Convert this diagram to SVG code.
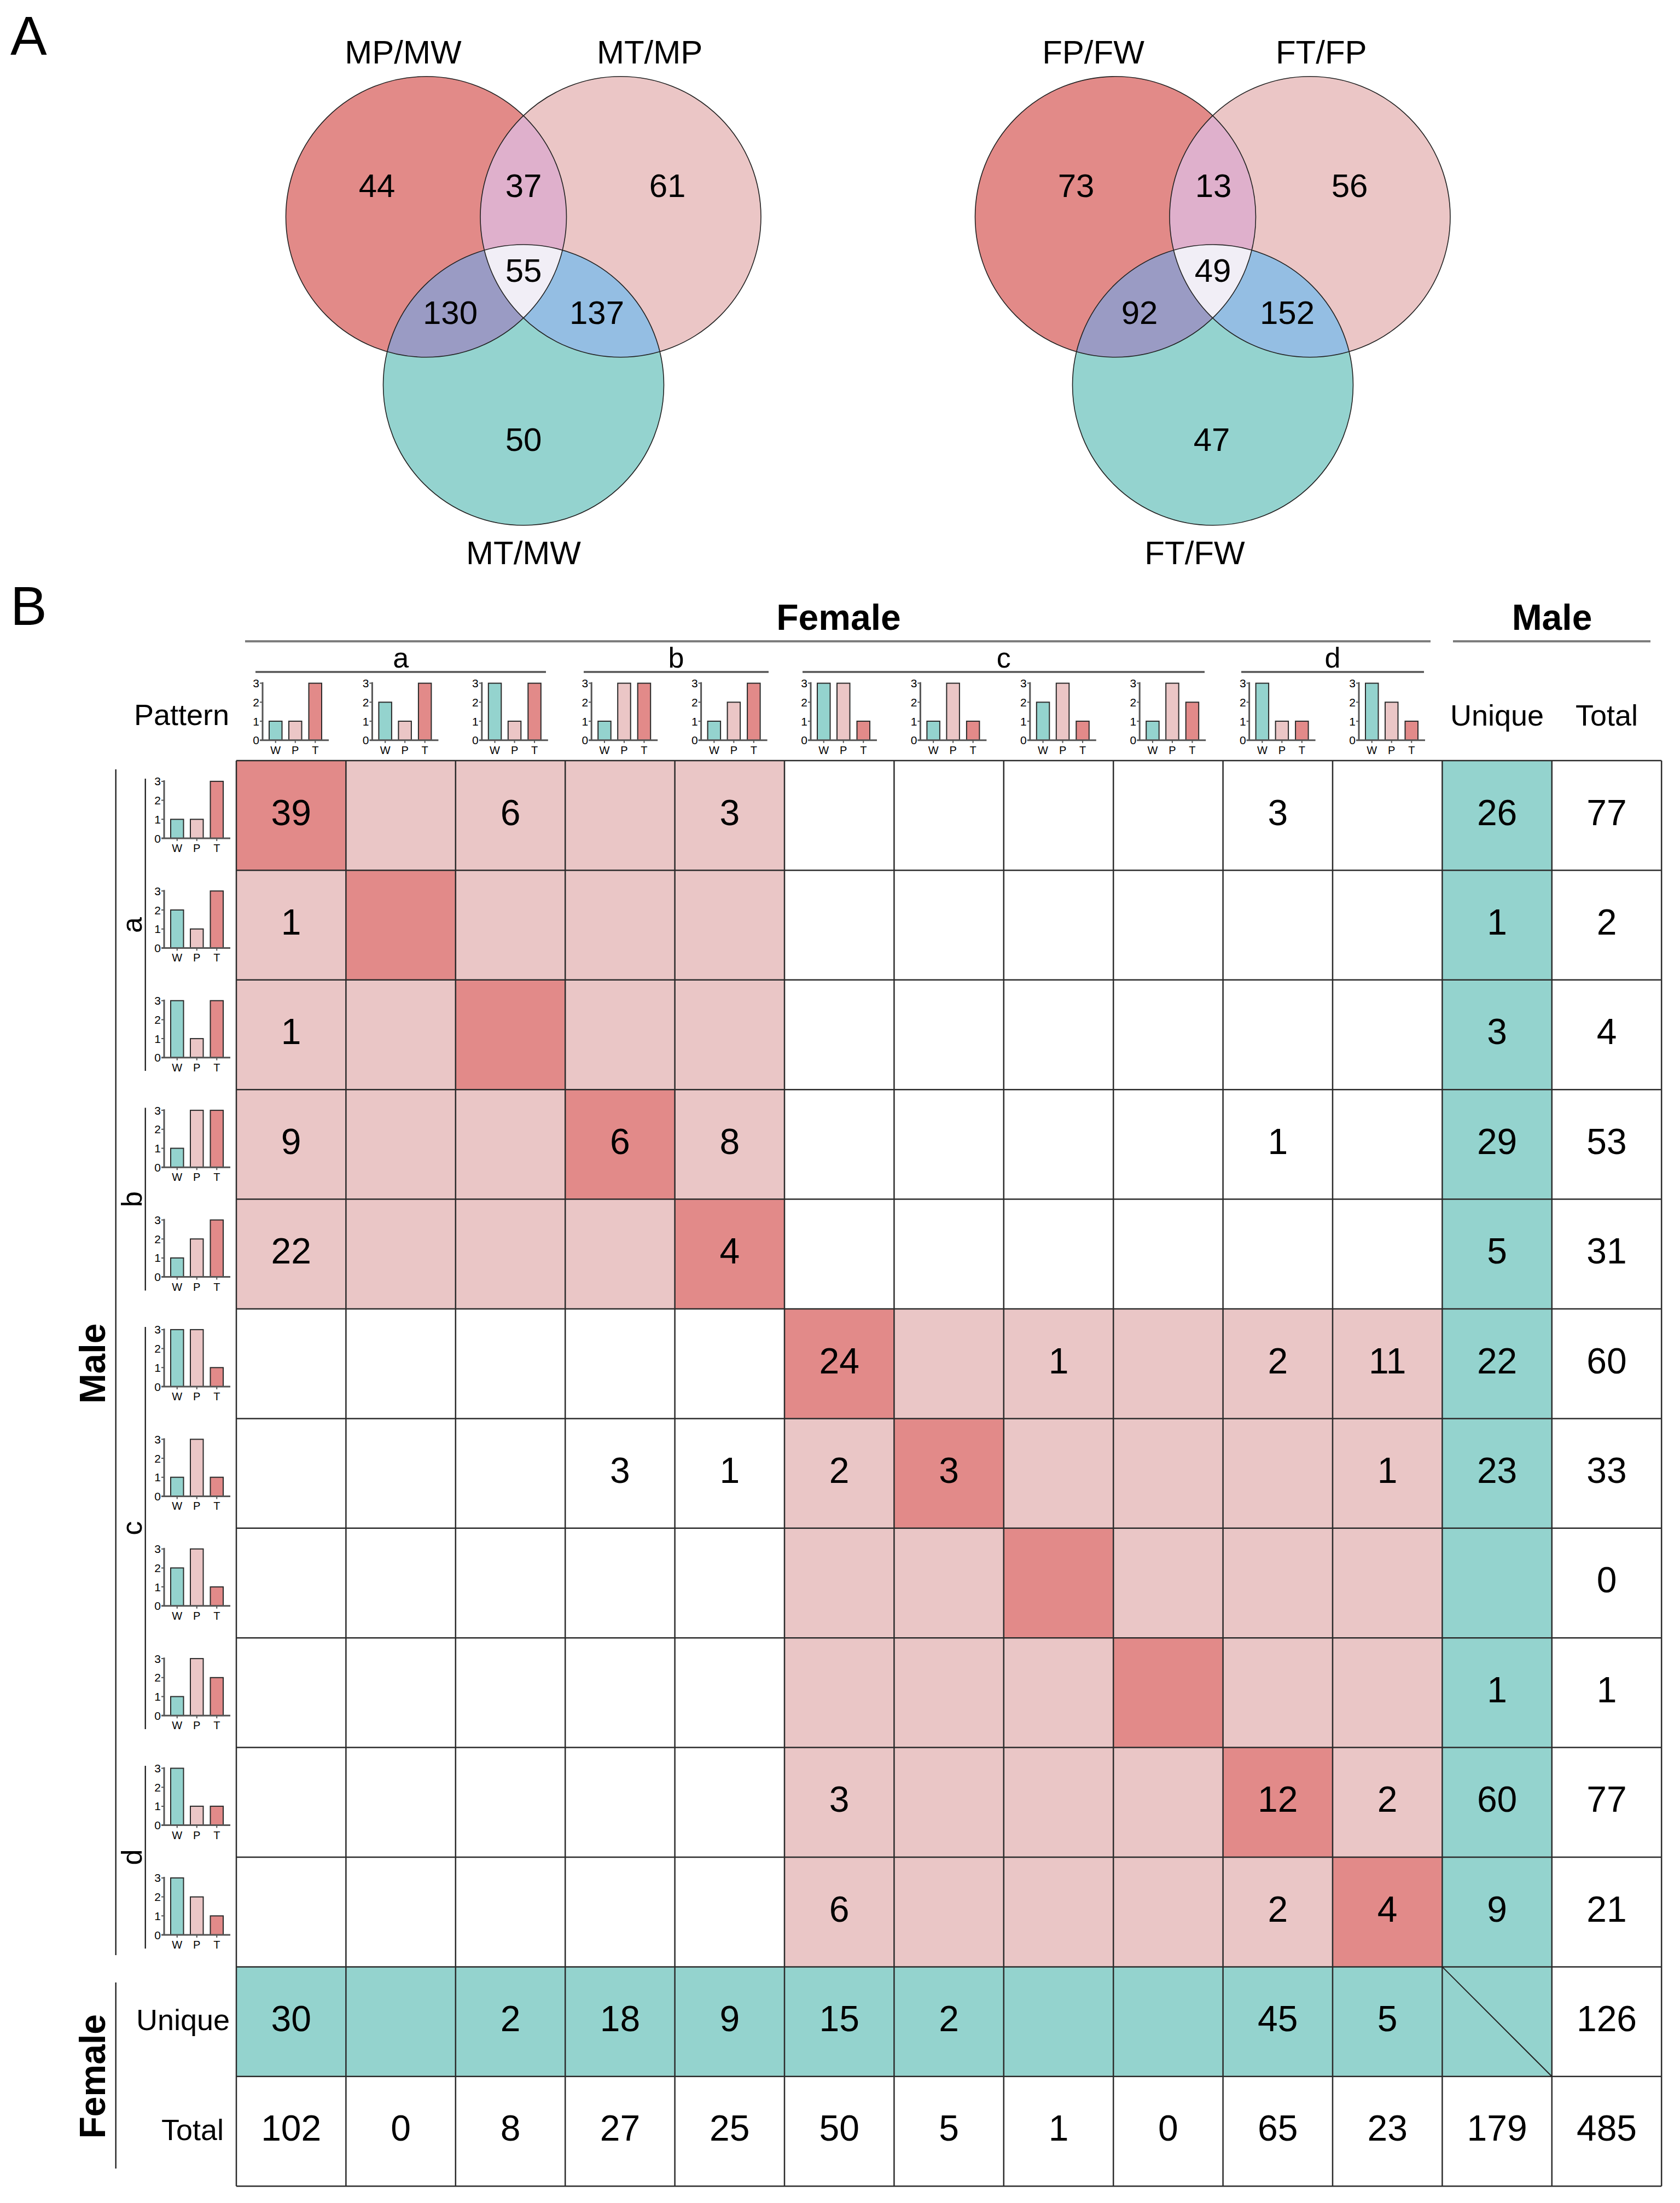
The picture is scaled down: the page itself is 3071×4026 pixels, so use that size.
<svg xmlns="http://www.w3.org/2000/svg" xmlns:xlink="http://www.w3.org/1999/xlink" width="3071" height="4026" viewBox="0 0 3071 4026">
<style>
text{font-family:"Liberation Sans",Arial,Helvetica,sans-serif;fill:#000}
.vl{font-size:60px;text-anchor:middle}
.big{font-size:100px}
.hb{font-size:66px;font-weight:bold;text-anchor:middle}
.grp{font-size:52px;text-anchor:middle}
.lab{font-size:54px}
.n{font-size:66px;text-anchor:middle}
.tk{font-size:21px;text-anchor:end}
.xl{font-size:20px;text-anchor:middle}
.ax{stroke:#555;stroke-width:3;fill:none}
.tm{stroke:#555;stroke-width:2;fill:none}
.bw{fill:#94D3CE;stroke:#2a2a2a;stroke-width:2}
.bp{fill:#EBC6C6;stroke:#2a2a2a;stroke-width:2}
.bt{fill:#E28A89;stroke:#2a2a2a;stroke-width:2}
.hl{stroke:#7d7d7d;stroke-width:4}
.gl{stroke:#555;stroke-width:3.5}
.br{stroke:#111;stroke-width:2.2}
.pk{fill:#EAC6C6}
.dk{fill:#E28A89}
.tl{fill:#94D3CE}
.grid{stroke:#2b2b2b;stroke-width:2.5;fill:none}
.vc{stroke:#222;stroke-width:1.6;fill:none}
</style>
<defs>
<clipPath id="cA"><circle cx="779" cy="396.3" r="256.5"/></clipPath>
<clipPath id="cB"><circle cx="1134.5" cy="396.3" r="256.5"/></clipPath>
<g id="axes">
<line class="ax" x1="-5" y1="0" x2="121" y2="0"/>
<line class="ax" x1="0" y1="1" x2="0" y2="-106"/>
<path class="tm" d="M-5,-104.1H0M-5,-69.4H0M-5,-34.7H0M23.75,0v5M59.75,0v5M96.25,0v5"/>
<text class="tk" x="-6" y="-96.6">3</text>
<text class="tk" x="-6" y="-61.9">2</text>
<text class="tk" x="-6" y="-27.2">1</text>
<text class="tk" x="-6" y="7.5">0</text>
<text class="xl" x="23.75" y="25">W</text>
<text class="xl" x="59.75" y="25">P</text>
<text class="xl" x="96.25" y="25">T</text>
</g>
<g id="p1"><rect class="bw" x="12" y="-34.7" width="23.5" height="34.7"/><rect class="bp" x="48" y="-34.7" width="23.5" height="34.7"/><rect class="bt" x="84.5" y="-104.1" width="23.5" height="104.1"/><use href="#axes"/></g>
<g id="p2"><rect class="bw" x="12" y="-69.4" width="23.5" height="69.4"/><rect class="bp" x="48" y="-34.7" width="23.5" height="34.7"/><rect class="bt" x="84.5" y="-104.1" width="23.5" height="104.1"/><use href="#axes"/></g>
<g id="p3"><rect class="bw" x="12" y="-104.1" width="23.5" height="104.1"/><rect class="bp" x="48" y="-34.7" width="23.5" height="34.7"/><rect class="bt" x="84.5" y="-104.1" width="23.5" height="104.1"/><use href="#axes"/></g>
<g id="p4"><rect class="bw" x="12" y="-34.7" width="23.5" height="34.7"/><rect class="bp" x="48" y="-104.1" width="23.5" height="104.1"/><rect class="bt" x="84.5" y="-104.1" width="23.5" height="104.1"/><use href="#axes"/></g>
<g id="p5"><rect class="bw" x="12" y="-34.7" width="23.5" height="34.7"/><rect class="bp" x="48" y="-69.4" width="23.5" height="69.4"/><rect class="bt" x="84.5" y="-104.1" width="23.5" height="104.1"/><use href="#axes"/></g>
<g id="p6"><rect class="bw" x="12" y="-104.1" width="23.5" height="104.1"/><rect class="bp" x="48" y="-104.1" width="23.5" height="104.1"/><rect class="bt" x="84.5" y="-34.7" width="23.5" height="34.7"/><use href="#axes"/></g>
<g id="p7"><rect class="bw" x="12" y="-34.7" width="23.5" height="34.7"/><rect class="bp" x="48" y="-104.1" width="23.5" height="104.1"/><rect class="bt" x="84.5" y="-34.7" width="23.5" height="34.7"/><use href="#axes"/></g>
<g id="p8"><rect class="bw" x="12" y="-69.4" width="23.5" height="69.4"/><rect class="bp" x="48" y="-104.1" width="23.5" height="104.1"/><rect class="bt" x="84.5" y="-34.7" width="23.5" height="34.7"/><use href="#axes"/></g>
<g id="p9"><rect class="bw" x="12" y="-34.7" width="23.5" height="34.7"/><rect class="bp" x="48" y="-104.1" width="23.5" height="104.1"/><rect class="bt" x="84.5" y="-69.4" width="23.5" height="69.4"/><use href="#axes"/></g>
<g id="p10"><rect class="bw" x="12" y="-104.1" width="23.5" height="104.1"/><rect class="bp" x="48" y="-34.7" width="23.5" height="34.7"/><rect class="bt" x="84.5" y="-34.7" width="23.5" height="34.7"/><use href="#axes"/></g>
<g id="p11"><rect class="bw" x="12" y="-104.1" width="23.5" height="104.1"/><rect class="bp" x="48" y="-69.4" width="23.5" height="69.4"/><rect class="bt" x="84.5" y="-34.7" width="23.5" height="34.7"/><use href="#axes"/></g>
<g id="venn">
<circle cx="779" cy="396.3" r="256.5" fill="#E28A88"/>
<circle cx="1134.5" cy="396.3" r="256.5" fill="#EBC6C6"/>
<circle cx="957" cy="703.5" r="256.5" fill="#94D3CF"/>
<circle cx="1134.5" cy="396.3" r="256.5" fill="#DFB0CC" clip-path="url(#cA)"/>
<circle cx="957" cy="703.5" r="256.5" fill="#9A9BC4" clip-path="url(#cA)"/>
<circle cx="957" cy="703.5" r="256.5" fill="#94BEE3" clip-path="url(#cB)"/>
<g clip-path="url(#cB)"><circle cx="957" cy="703.5" r="256.5" fill="#F1EEF6" clip-path="url(#cA)"/></g>
<circle class="vc" cx="779" cy="396.3" r="256.5"/>
<circle class="vc" cx="1134.5" cy="396.3" r="256.5"/>
<circle class="vc" cx="957" cy="703.5" r="256.5"/>
</g>
</defs>
<rect width="3071" height="4026" fill="#fff"/>

<!-- Panel A -->
<text class="big" x="19" y="100">A</text>
<g id="venn-male">
<use href="#venn"/>
<text class="vl" x="737" y="115.7">MP/MW</text>
<text class="vl" x="1187.6" y="115.7">MT/MP</text>
<text class="vl" x="957" y="1031">MT/MW</text>
<text class="vl" x="689" y="359.5">44</text>
<text class="vl" x="957" y="359.5">37</text>
<text class="vl" x="1220" y="359.5">61</text>
<text class="vl" x="957" y="515">55</text>
<text class="vl" x="823" y="592">130</text>
<text class="vl" x="1091" y="592">137</text>
<text class="vl" x="957" y="824">50</text>
</g>
<g id="venn-female">
<use href="#venn" transform="translate(1260,0)"/>
<text class="vl" x="1998.5" y="115.7">FP/FW</text>
<text class="vl" x="2415.3" y="115.7">FT/FP</text>
<text class="vl" x="2184" y="1031">FT/FW</text>
<text class="vl" x="1967" y="359.5">73</text>
<text class="vl" x="2218" y="359.5">13</text>
<text class="vl" x="2467" y="359.5">56</text>
<text class="vl" x="2217" y="515">49</text>
<text class="vl" x="2083" y="592">92</text>
<text class="vl" x="2353" y="592">152</text>
<text class="vl" x="2215" y="824">47</text>
</g>

<!-- Panel B -->
<text class="big" x="19" y="1142">B</text>
<g id="header">
<text class="hb" x="1533" y="1151">Female</text>
<text class="hb" x="2837" y="1151">Male</text>
<line class="hl" x1="448" y1="1172" x2="2615" y2="1172"/>
<line class="hl" x1="2656" y1="1172" x2="3017" y2="1172"/>
<text class="grp" x="732.6" y="1220">a</text>
<text class="grp" x="1236" y="1220">b</text>
<text class="grp" x="1834.8" y="1220">c</text>
<text class="grp" x="2436" y="1220">d</text>
<line class="gl" x1="467" y1="1228" x2="998" y2="1228"/>
<line class="gl" x1="1067" y1="1228" x2="1405" y2="1228"/>
<line class="gl" x1="1467" y1="1228" x2="2202" y2="1228"/>
<line class="gl" x1="2269" y1="1228" x2="2603" y2="1228"/>
<text class="lab" x="332" y="1325" text-anchor="middle">Pattern</text>
<text class="lab" x="2736.6" y="1326" text-anchor="middle">Unique</text>
<text class="lab" x="2937" y="1326" text-anchor="middle">Total</text>
<use href="#p1" x="480" y="1352.7"/>
<use href="#p2" x="680.4" y="1352.7"/>
<use href="#p3" x="880.8" y="1352.7"/>
<use href="#p4" x="1081.2" y="1352.7"/>
<use href="#p5" x="1281.6" y="1352.7"/>
<use href="#p6" x="1482" y="1352.7"/>
<use href="#p7" x="1682.4" y="1352.7"/>
<use href="#p8" x="1882.8" y="1352.7"/>
<use href="#p9" x="2083.2" y="1352.7"/>
<use href="#p10" x="2283.6" y="1352.7"/>
<use href="#p11" x="2484" y="1352.7"/>
</g>

<g id="row-labels">
<text class="hb" transform="translate(192.3,2492) rotate(-90)">Male</text>
<text class="hb" transform="translate(191.7,3794.8) rotate(-90)">Female</text>
<line class="br" x1="211.7" y1="1406" x2="211.7" y2="3573"/>
<line class="br" x1="211.7" y1="3623" x2="211.7" y2="3963"/>
<text class="grp" transform="translate(258.5,1690.6) rotate(-90)">a</text>
<text class="grp" transform="translate(258.5,2191.6) rotate(-90)">b</text>
<text class="grp" transform="translate(258.5,2792.8) rotate(-90)">c</text>
<text class="grp" transform="translate(258.5,3394) rotate(-90)">d</text>
<line class="br" x1="265.7" y1="1423" x2="265.7" y2="1957"/>
<line class="br" x1="265.7" y1="2024.5" x2="265.7" y2="2358.5"/>
<line class="br" x1="265.7" y1="2425" x2="265.7" y2="3160"/>
<line class="br" x1="265.7" y1="3227" x2="265.7" y2="3561"/>
<use href="#p1" x="300" y="1532"/>
<use href="#p2" x="300" y="1732.4"/>
<use href="#p3" x="300" y="1932.8"/>
<use href="#p4" x="300" y="2133.2"/>
<use href="#p5" x="300" y="2333.6"/>
<use href="#p6" x="300" y="2534"/>
<use href="#p7" x="300" y="2734.4"/>
<use href="#p8" x="300" y="2934.8"/>
<use href="#p9" x="300" y="3135.2"/>
<use href="#p10" x="300" y="3335.6"/>
<use href="#p11" x="300" y="3536"/>
<text class="lab" x="249" y="3710">Unique</text>
<text class="lab" x="295" y="3911">Total</text>
</g>

<g id="table-cells">
<rect class="pk" x="432" y="1390" width="1002" height="1002"/>
<rect class="pk" x="1434" y="2392" width="1202.4" height="1202.4"/>
<rect class="dk" x="432" y="1390" width="200.4" height="200.4"/>
<rect class="dk" x="632.4" y="1590.4" width="200.4" height="200.4"/>
<rect class="dk" x="832.8" y="1790.8" width="200.4" height="200.4"/>
<rect class="dk" x="1033.2" y="1991.2" width="200.4" height="200.4"/>
<rect class="dk" x="1233.6" y="2191.6" width="200.4" height="200.4"/>
<rect class="dk" x="1434" y="2392" width="200.4" height="200.4"/>
<rect class="dk" x="1634.4" y="2592.4" width="200.4" height="200.4"/>
<rect class="dk" x="1834.8" y="2792.8" width="200.4" height="200.4"/>
<rect class="dk" x="2035.2" y="2993.2" width="200.4" height="200.4"/>
<rect class="dk" x="2235.6" y="3193.6" width="200.4" height="200.4"/>
<rect class="dk" x="2436" y="3394" width="200.4" height="200.4"/>
<rect class="tl" x="2636.4" y="1390" width="200.4" height="2404.8"/>
<rect class="tl" x="432" y="3594.4" width="2204.4" height="200.4"/>
</g>

<g id="table-grid">
<path class="grid" d="M432,1390V3995.2M632.4,1390V3995.2M832.8,1390V3995.2M1033.2,1390V3995.2M1233.6,1390V3995.2M1434,1390V3995.2M1634.4,1390V3995.2M1834.8,1390V3995.2M2035.2,1390V3995.2M2235.6,1390V3995.2M2436,1390V3995.2M2636.4,1390V3995.2M2836.8,1390V3995.2M3037.2,1390V3995.2"/>
<path class="grid" d="M432,1390H3037.2M432,1590.4H3037.2M432,1790.8H3037.2M432,1991.2H3037.2M432,2191.6H3037.2M432,2392H3037.2M432,2592.4H3037.2M432,2792.8H3037.2M432,2993.2H3037.2M432,3193.6H3037.2M432,3394H3037.2M432,3594.4H3037.2M432,3794.8H3037.2M432,3995.2H3037.2"/>
<line x1="2636.4" y1="3594.4" x2="2836.8" y2="3794.8" stroke="#222" stroke-width="2"/>
</g>

<g id="table-values">
<text class="n" x="532.2" y="1507.5">39</text>
<text class="n" x="933" y="1507.5">6</text>
<text class="n" x="1333.8" y="1507.5">3</text>
<text class="n" x="2335.8" y="1507.5">3</text>
<text class="n" x="2736.6" y="1507.5">26</text>
<text class="n" x="2937" y="1507.5">77</text>

<text class="n" x="532.2" y="1707.9">1</text>
<text class="n" x="2736.6" y="1707.9">1</text>
<text class="n" x="2937" y="1707.9">2</text>

<text class="n" x="532.2" y="1908.3">1</text>
<text class="n" x="2736.6" y="1908.3">3</text>
<text class="n" x="2937" y="1908.3">4</text>

<text class="n" x="532.2" y="2108.7">9</text>
<text class="n" x="1133.4" y="2108.7">6</text>
<text class="n" x="1333.8" y="2108.7">8</text>
<text class="n" x="2335.8" y="2108.7">1</text>
<text class="n" x="2736.6" y="2108.7">29</text>
<text class="n" x="2937" y="2108.7">53</text>

<text class="n" x="532.2" y="2309.1">22</text>
<text class="n" x="1333.8" y="2309.1">4</text>
<text class="n" x="2736.6" y="2309.1">5</text>
<text class="n" x="2937" y="2309.1">31</text>

<text class="n" x="1534.2" y="2509.5">24</text>
<text class="n" x="1935" y="2509.5">1</text>
<text class="n" x="2335.8" y="2509.5">2</text>
<text class="n" x="2536.2" y="2509.5">11</text>
<text class="n" x="2736.6" y="2509.5">22</text>
<text class="n" x="2937" y="2509.5">60</text>

<text class="n" x="1133.4" y="2709.9">3</text>
<text class="n" x="1333.8" y="2709.9">1</text>
<text class="n" x="1534.2" y="2709.9">2</text>
<text class="n" x="1734.6" y="2709.9">3</text>
<text class="n" x="2536.2" y="2709.9">1</text>
<text class="n" x="2736.6" y="2709.9">23</text>
<text class="n" x="2937" y="2709.9">33</text>

<text class="n" x="2937" y="2910.3">0</text>

<text class="n" x="2736.6" y="3110.7">1</text>
<text class="n" x="2937" y="3110.7">1</text>

<text class="n" x="1534.2" y="3311.1">3</text>
<text class="n" x="2335.8" y="3311.1">12</text>
<text class="n" x="2536.2" y="3311.1">2</text>
<text class="n" x="2736.6" y="3311.1">60</text>
<text class="n" x="2937" y="3311.1">77</text>

<text class="n" x="1534.2" y="3511.5">6</text>
<text class="n" x="2335.8" y="3511.5">2</text>
<text class="n" x="2536.2" y="3511.5">4</text>
<text class="n" x="2736.6" y="3511.5">9</text>
<text class="n" x="2937" y="3511.5">21</text>

<text class="n" x="532.2" y="3711.9">30</text>
<text class="n" x="933" y="3711.9">2</text>
<text class="n" x="1133.4" y="3711.9">18</text>
<text class="n" x="1333.8" y="3711.9">9</text>
<text class="n" x="1534.2" y="3711.9">15</text>
<text class="n" x="1734.6" y="3711.9">2</text>
<text class="n" x="2335.8" y="3711.9">45</text>
<text class="n" x="2536.2" y="3711.9">5</text>
<text class="n" x="2937" y="3711.9">126</text>

<text class="n" x="532.2" y="3912.3">102</text>
<text class="n" x="732.6" y="3912.3">0</text>
<text class="n" x="933" y="3912.3">8</text>
<text class="n" x="1133.4" y="3912.3">27</text>
<text class="n" x="1333.8" y="3912.3">25</text>
<text class="n" x="1534.2" y="3912.3">50</text>
<text class="n" x="1734.6" y="3912.3">5</text>
<text class="n" x="1935" y="3912.3">1</text>
<text class="n" x="2135.4" y="3912.3">0</text>
<text class="n" x="2335.8" y="3912.3">65</text>
<text class="n" x="2536.2" y="3912.3">23</text>
<text class="n" x="2736.6" y="3912.3">179</text>
<text class="n" x="2937" y="3912.3">485</text>
</g>
</svg>
